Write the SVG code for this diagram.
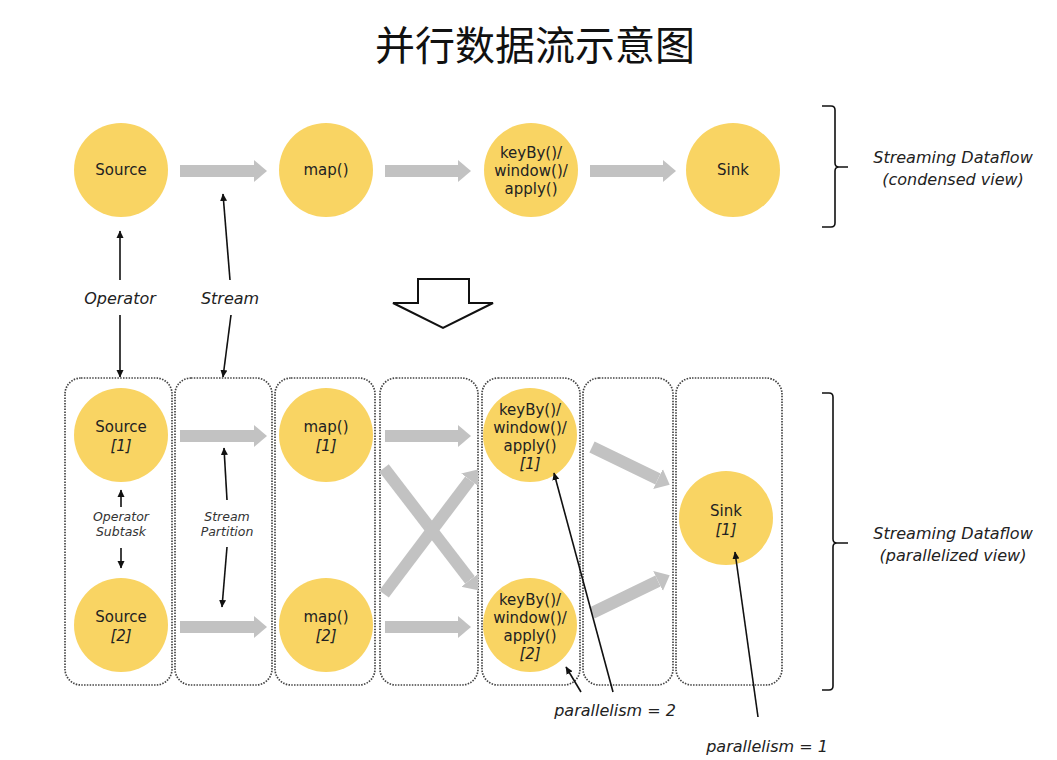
<svg xmlns="http://www.w3.org/2000/svg" width="1057" height="760" viewBox="0 0 1057 760">
<defs>
<marker id="gh" markerUnits="userSpaceOnUse" markerWidth="14" markerHeight="24" refX="0" refY="11" orient="auto" viewBox="0 0 14 22"><path d="M0,0 L13,11 L0,22 z" fill="#c2c2c2"/></marker>
<marker id="bh" markerUnits="userSpaceOnUse" markerWidth="8" markerHeight="8" refX="7" refY="4" orient="auto" viewBox="0 0 8 8"><path d="M0,0.5 L7.5,4 L0,7.5 z" fill="#111"/></marker>
<style>
.node{fill:#f9d463;stroke:none}
.nt{font-family:"DejaVu Sans",Verdana,sans-serif;font-size:15px;fill:#222;text-anchor:middle}
.ni{font-style:italic}
.lab{font-family:"DejaVu Sans",Verdana,sans-serif;font-style:italic;font-size:16px;fill:#222;text-anchor:middle}
.sm{font-family:"DejaVu Sans",Verdana,sans-serif;font-style:italic;font-size:12.5px;fill:#333;text-anchor:middle}
.box{fill:none;stroke:#444;stroke-width:1.7;stroke-dasharray:1.5 1.3}
.ga{stroke:#c2c2c2;stroke-width:12;fill:none;marker-end:url(#gh)}
.ba{stroke:#111;stroke-width:1.6;fill:none;marker-end:url(#bh)}
.bl{stroke:#111;stroke-width:1.6;fill:none}
</style>
</defs>
<rect width="1057" height="760" fill="#ffffff"/>
<text x="535" y="60" font-family="'Noto Sans CJK SC','Noto Sans',sans-serif" font-size="40" fill="#111" text-anchor="middle">并行数据流示意图</text>

<g id="lanes">
<rect class="box" x="65" y="378" width="107" height="307" rx="16"/>
<rect class="box" x="175" y="378" width="97" height="307" rx="16"/>
<rect class="box" x="275" y="378" width="100" height="307" rx="16"/>
<rect class="box" x="380" y="378" width="98" height="307" rx="16"/>
<rect class="box" x="482" y="378" width="98" height="307" rx="16"/>
<rect class="box" x="583" y="378" width="90" height="307" rx="16"/>
<rect class="box" x="676" y="378" width="106" height="307" rx="16"/>
</g>

<g id="connectors">
<line class="ga" x1="180" y1="171" x2="254" y2="171"/>
<line class="ga" x1="385" y1="171" x2="458" y2="171"/>
<line class="ga" x1="590" y1="171" x2="663" y2="171"/>
<line class="ga" x1="180" y1="436" x2="254" y2="436"/>
<line class="ga" x1="180" y1="627" x2="254" y2="627"/>
<line class="ga" x1="385" y1="436" x2="458" y2="436"/>
<line class="ga" x1="385" y1="627" x2="458" y2="627"/>
<line class="ga" x1="384" y1="468" x2="470" y2="580"/>
<line class="ga" x1="384" y1="594" x2="470" y2="480"/>
<line class="ga" x1="592" y1="447" x2="658" y2="479"/>
<line class="ga" x1="592" y1="613" x2="658" y2="581"/>
</g>

<g id="nodes">
<g id="n-source"><circle class="node" cx="121" cy="170" r="47"/><text class="nt" x="121" y="175">Source</text></g>
<g id="n-map"><circle class="node" cx="326" cy="170" r="47"/><text class="nt" x="326" y="175">map()</text></g>
<g id="n-keyby"><circle class="node" cx="531" cy="170" r="47"/><text class="nt" x="531" y="158">keyBy()/</text><text class="nt" x="531" y="176">window()/</text><text class="nt" x="531" y="194">apply()</text></g>
<g id="n-sink"><circle class="node" cx="733" cy="170" r="47"/><text class="nt" x="733" y="175">Sink</text></g>

<g id="n-source1"><circle class="node" cx="121" cy="435" r="47"/><text class="nt" x="121" y="432">Source</text><text class="nt ni" x="121" y="451">[1]</text></g>
<g id="n-source2"><circle class="node" cx="121" cy="625" r="47"/><text class="nt" x="121" y="622">Source</text><text class="nt ni" x="121" y="641">[2]</text></g>
<g id="n-map1"><circle class="node" cx="326" cy="435" r="47"/><text class="nt" x="326" y="432">map()</text><text class="nt ni" x="326" y="451">[1]</text></g>
<g id="n-map2"><circle class="node" cx="326" cy="625" r="47"/><text class="nt" x="326" y="622">map()</text><text class="nt ni" x="326" y="641">[2]</text></g>
<g id="n-keyby1"><circle class="node" cx="530" cy="435" r="47"/><text class="nt" x="530" y="415">keyBy()/</text><text class="nt" x="530" y="433">window()/</text><text class="nt" x="530" y="451">apply()</text><text class="nt ni" x="530" y="469">[1]</text></g>
<g id="n-keyby2"><circle class="node" cx="530" cy="625" r="47"/><text class="nt" x="530" y="605">keyBy()/</text><text class="nt" x="530" y="623">window()/</text><text class="nt" x="530" y="641">apply()</text><text class="nt ni" x="530" y="659">[2]</text></g>
<g id="n-sink1"><circle class="node" cx="726" cy="518" r="47"/><text class="nt" x="726" y="516">Sink</text><text class="nt ni" x="726" y="535">[1]</text></g>
</g>

<g id="annotations">
<line class="ba" x1="120" y1="280" x2="120" y2="231"/>
<text class="lab" x="120" y="304">Operator</text>
<line class="ba" x1="120" y1="315" x2="120" y2="377"/>
<line class="ba" x1="230" y1="280" x2="223" y2="194"/>
<text class="lab" x="230" y="304">Stream</text>
<line class="ba" x1="231" y1="315" x2="223" y2="377"/>

<line class="ba" x1="121" y1="507" x2="121" y2="490"/>
<text class="sm" x="121" y="521">Operator</text>
<text class="sm" x="121" y="536">Subtask</text>
<line class="ba" x1="121" y1="548" x2="121" y2="568"/>
<line class="ba" x1="227" y1="500" x2="224" y2="448"/>
<text class="sm" x="227" y="521">Stream</text>
<text class="sm" x="227" y="536">Partition</text>
<line class="ba" x1="227" y1="547" x2="222" y2="607"/>

<line class="ba" x1="613" y1="692" x2="554" y2="473"/>
<line class="ba" x1="581" y1="692" x2="566" y2="667"/>
<text class="lab" x="615" y="716">parallelism = 2</text>
<line class="ba" x1="758" y1="717" x2="735" y2="552"/>
<text class="lab" x="767" y="752">parallelism = 1</text>

<path d="M418,279 H469 V303 H493 L443,328 L393,303 H418 Z" fill="#fff" stroke="#111" stroke-width="2" stroke-linejoin="miter"/>

<path class="bl" d="M822,106 H831 Q835,106 835,110 V163 Q835,167 839,167 H848 M839,167 Q835,167 835,171 V223 Q835,227 831,227 H822"/>
<text class="lab" x="953" y="163">Streaming Dataflow</text>
<text class="lab" x="953" y="185">(condensed view)</text>

<path class="bl" d="M822,393 H829 Q833,393 833,397 V539 Q833,543 837,543 H848 M837,543 Q833,543 833,547 V686 Q833,690 829,690 H822"/>
<text class="lab" x="953" y="539">Streaming Dataflow</text>
<text class="lab" x="953" y="561">(parallelized view)</text>
</g>
</svg>
